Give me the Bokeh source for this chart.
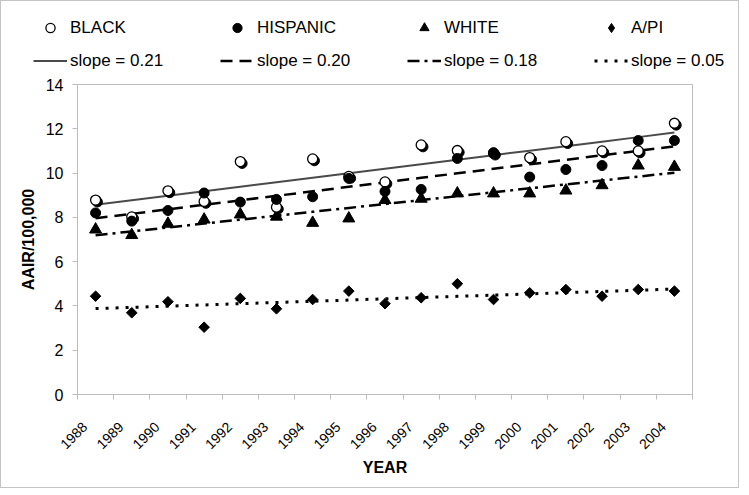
import numpy as np
from bokeh.plotting import figure
from bokeh.layouts import column
from bokeh.models import (Range1d, FixedTicker, Legend, LegendItem, ColumnDataSource,
                          CustomJSTickFormatter, Plot)
from bokeh.transform import dodge
from bokeh.embed import file_html
from bokeh.resources import INLINE

# ---- data ----
years = list(range(1988, 2005))
black = [8.78, 8.02, 9.20, 8.72, 10.52, 8.46, 10.64, 9.85, 9.60, 11.27, 11.02, 10.90, 10.70, 11.42, 11.00, 11.00, 12.25]
hispanic = [8.20, 7.83, 8.31, 9.10, 8.69, 8.81, 8.93, 9.76, 9.17, 9.26, 10.66, 10.92, 9.82, 10.16, 10.34, 11.47, 11.47]
white = [7.45, 7.20, 7.71, 7.90, 8.13, 8.03, 7.75, 7.95, 8.78, 8.84, 9.08, 9.08, 9.08, 9.21, 9.45, 10.34, 10.28]
api = [4.44, 3.69, 4.19, 3.04, 4.34, 3.87, 4.29, 4.67, 4.10, 4.37, 5.00, 4.29, 4.59, 4.74, 4.44, 4.74, 4.67]
series_names = ["BLACK", "HISPANIC", "WHITE", "A/PI"]
slope_labels = ["slope = 0.21", "slope = 0.20", "slope = 0.18", "slope = 0.05"]
y_ticks = [0, 2, 4, 6, 8, 10, 12, 14]

FONT = "Liberation Sans"
GRAY = "#bdbdbd"
BORDER = "1px solid #c4c4c4"
LABEL_SHIFT = 0.30  # label anchor shift (in category units) to mimic spreadsheet placement

# glyph styles (shared by plot and legend)
MARK = [
    dict(marker="circle", size=10, fill_color="white", line_color="black", line_width=1.3),
    dict(marker="circle", size=10, fill_color="black", line_color="black"),
    dict(marker="triangle", size=12, fill_color="black", line_color="black"),
    dict(marker="square", angle=np.pi / 4, size=7.5, fill_color="black", line_color="black"),
]
LEGEND_MARK = MARK[:3] + [dict(marker="diamond", size=10, fill_color="black", line_color="black")]
LINE = [
    dict(line_color="#4a4a4a", line_width=2),
    dict(line_color="black", line_width=2.5, line_dash="12 7"),
    dict(line_color="black", line_width=2.5, line_dash="12 5 3 5"),
    dict(line_color="black", line_width=3, line_dash="3 7"),
]

src = ColumnDataSource(dict(year=years, black=black, hispanic=hispanic, white=white, api=api))

def trend(vals):
    m, b = np.polyfit(years, vals, 1)
    return [m * x + b for x in years]

# ---------------- main chart ----------------
p = figure(width=737, height=410,
           x_range=Range1d(years[0] - 0.5, years[-1] + 0.5),
           y_range=Range1d(y_ticks[0], y_ticks[-1]),
           output_backend="svg", toolbar_location=None,
           min_border_left=76, min_border_right=46,
           min_border_top=7, min_border_bottom=93)

p.xgrid.visible = False
p.ygrid.visible = False
p.outline_line_color = GRAY
p.outline_line_width = 1
p.background_fill_color = "white"
p.border_fill_color = "white"

# trend lines
for vals, st in zip([black, hispanic, white, api], LINE):
    p.line(years, trend(vals), **st)

# markers (A/PI, WHITE, BLACK with shadow, HISPANIC)
p.scatter("year", "api", source=src, **MARK[3])
p.scatter("year", "white", source=src, **MARK[2])
p.scatter(dodge("year", 0.05, range=p.x_range), dodge("black", -0.085, range=p.y_range), source=src,
          marker="circle", size=10, fill_color="black", line_color="black")
p.scatter("year", "black", source=src, **MARK[0])
p.scatter("year", "hispanic", source=src, **MARK[1])

# axes
xa = p.xaxis[0]
xa.ticker = FixedTicker(ticks=[y - LABEL_SHIFT for y in years],
                        minor_ticks=[y - 0.5 for y in years] + [years[-1] + 0.5])
xa.formatter = CustomJSTickFormatter(code="return String(Math.round(tick));")
xa.major_tick_line_color = None
xa.major_tick_out = 0
xa.major_tick_in = 0
xa.minor_tick_line_color = GRAY
xa.minor_tick_out = 5
xa.minor_tick_in = 0
xa.axis_line_color = GRAY
xa.major_label_orientation = np.pi / 4
xa.major_label_text_font = FONT
xa.major_label_text_font_size = "14px"
xa.major_label_text_color = "black"
xa.major_label_standoff = 25
xa.axis_label = "YEAR"
xa.axis_label_text_font = FONT
xa.axis_label_text_font_style = "bold"
xa.axis_label_text_font_size = "16px"
xa.axis_label_text_color = "black"
xa.axis_label_standoff = 2

ya = p.yaxis[0]
ya.ticker = FixedTicker(ticks=y_ticks, minor_ticks=[])
ya.major_tick_line_color = GRAY
ya.major_tick_out = 5
ya.major_tick_in = 0
ya.minor_tick_line_color = None
ya.axis_line_color = GRAY
ya.major_label_text_font = FONT
ya.major_label_text_font_size = "16px"
ya.major_label_text_color = "black"
ya.major_label_standoff = 9
ya.axis_label = "AAIR/100,000"
ya.axis_label_text_font = FONT
ya.axis_label_text_font_style = "bold"
ya.axis_label_text_font_size = "16px"
ya.axis_label_text_color = "black"
ya.axis_label_standoff = 6

# ---------------- legend strip ----------------
lg = figure(width=737, height=76, x_range=Range1d(0, 1), y_range=Range1d(0, 1),
            x_axis_location=None, y_axis_location=None,
            output_backend="svg", toolbar_location=None,
            min_border_left=0, min_border_right=0, min_border_top=0, min_border_bottom=0)
lg.xgrid.visible = False
lg.ygrid.visible = False
lg.outline_line_color = None
lg.background_fill_color = "white"
lg.border_fill_color = "white"

# placeholder renderers (NaN data: nothing drawn) that carry the legend glyph styles
mark_r = [lg.scatter(x=[np.nan], y=[np.nan], **st) for st in LEGEND_MARK]
line_r = [lg.line(x=[np.nan, np.nan], y=[np.nan, np.nan], **st) for st in LINE]

items = [LegendItem(label=n, renderers=[r]) for n, r in zip(series_names, mark_r)]
items += [LegendItem(label=s, renderers=[r]) for s, r in zip(slope_labels, line_r)]

legend = Legend(items=items, orientation="horizontal", ncols=4,
                location=(32, 5), glyph_width=34, glyph_height=23,
                label_width=140, label_height=23, label_standoff=3,
                spacing=10, padding=0, margin=0,
                border_line_color=None, background_fill_alpha=0,
                label_text_font=FONT, label_text_font_size="17px",
                label_text_color="black")
lg.add_layout(legend, "center")

if "frame_align" in Plot.properties():
    # keep each figure's own frame (no frame alignment inside the column)
    lg.frame_align = False
    p.frame_align = False
    layout = column(lg, p, spacing=0, styles={"border": BORDER})
    html = file_html(layout, INLINE)
else:
    lg.styles = {"border-top": BORDER, "border-left": BORDER, "border-right": BORDER, "display": "block"}
    p.styles = {"border-bottom": BORDER, "border-left": BORDER, "border-right": BORDER, "display": "block"}
    html = file_html([lg, p], INLINE)

open("out.html", "w").write(html)
